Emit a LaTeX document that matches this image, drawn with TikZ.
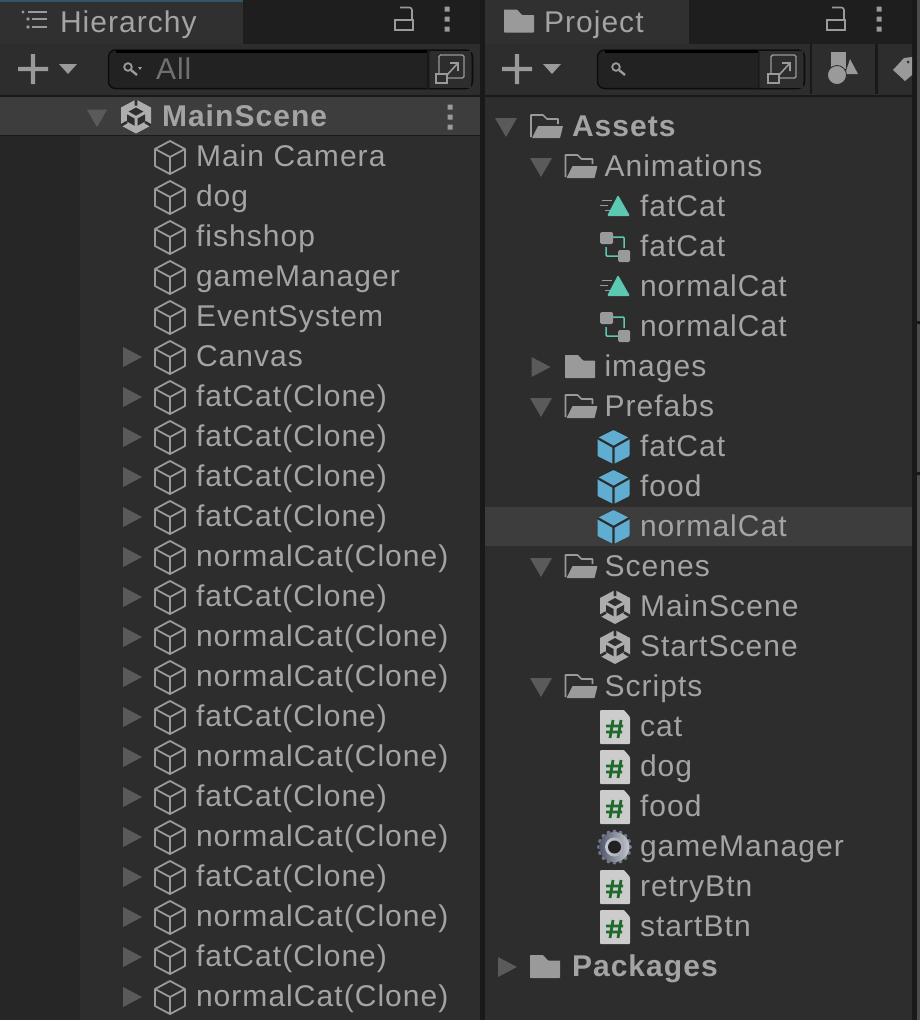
\documentclass[tikz,border=0pt]{standalone}
\usepackage{fontspec}
\setmainfont[LetterSpace=3.5]{Liberation Sans}
\usetikzlibrary{calc}
\definecolor{panel}{HTML}{2D2D2D}
\definecolor{bar}{HTML}{1E1E1E}
\definecolor{tab}{HTML}{303030}
\definecolor{strip}{HTML}{262626}
\definecolor{sel}{HTML}{3D3D3D}
\definecolor{txt}{HTML}{A4A4A4}
\definecolor{ico}{HTML}{9A9A9A}
\definecolor{tri}{HTML}{5A5A5A}
\definecolor{teal}{HTML}{5CC8B2}
\definecolor{blue}{HTML}{5FADD1}
\definecolor{page}{HTML}{CCCCCC}
\definecolor{sharp}{HTML}{1E6B2C}
\definecolor{gap}{HTML}{191919}
\definecolor{sfield}{HTML}{222222}
\definecolor{dimtxt}{HTML}{707070}
\definecolor{gearA}{HTML}{50566A}
\definecolor{gearB}{HTML}{C4C8D0}
\tikzset{
 x=1pt,y=-1pt,
 lbl/.style={anchor=base west,inner sep=0pt,outer sep=0pt,text=txt,font=\fontsize{30}{34}\selectfont},
 blbl/.style={lbl,font=\fontsize{30}{34}\selectfont\bfseries},
 tablbl/.style={lbl,font=\fontsize{30}{34}\selectfont},
 thn/.style={line width=1.8pt,draw=ico,line join=round},
 cube/.pic={\draw[thn] (0,-16)--(15,-8)--(15,9)--(0,17)--(-15,9)--(-15,-8)--cycle (-15,-8)--(0,0)--(15,-8) (0,0)--(0,17);},
 bcube/.pic={\fill[blue,rounded corners=1pt] (0,-17)--(16,-9)--(16,9)--(0,17)--(-16,9)--(-16,-9)--cycle;
   \draw[panel,line width=2.2pt] (-16,-9)--(0,0)--(16,-9) (0,0)--(0,17);},
 unity/.pic={\fill[page!85!black] (0,-17)--(15,-9)--(15,9)--(0,17)--(-15,9)--(-15,-9)--cycle;
   \fill[panel] (0,-9)--(9,-4)--(9,5)--(0,10)--(-9,5)--(-9,-4)--cycle;
   \draw[panel,line width=2.6pt] (0,-17)--(0,-11) (-15,9)--(-9,5.5) (15,9)--(9,5.5);
   \draw[page!85!black,line width=3pt] (0,1)--(0,11) (0,1)--(-9,-4) (0,1)--(9,-4);},
 ofolder/.pic={\draw[ico,line width=1.6pt,line join=round] (-16,11)--(-16,-11)--(-4,-11)--(0,-7)--(11,-7)--(11,-2);
   \fill[ico,rounded corners=.5pt] (-9,0)--(16,0)--(13,12)--(-15,12)--cycle;},
 cfolder/.pic={\fill[ico,rounded corners=.6pt] (-15,11.5)--(-15,-11.5)--(-2,-11.5)--(3,-6)--(15,-6)--(15,11.5)--cycle;},
 clip/.pic={\draw[ico,line width=1pt] (-12,-6)--(-2,-6) (-14,-1)--(-6,-1) (-9,4.7)--(-4,4.7);
   \fill[teal,rounded corners=1.3pt] (-7,10)--(4,-11)--(16,10)--cycle;},
 ctrl/.pic={\draw[teal,line width=1.5pt,rounded corners=1pt] (-1,-9)--(10,-9)--(10,2) (-8,1)--(-8,10)--(4,10);
   \fill[ico,rounded corners=1.5pt] (-14,-14) rectangle (-1,-2);
   \fill[ico,rounded corners=1.5pt] (4,4) rectangle (16,16);},
 script/.pic={\fill[page,rounded corners=1pt] (-15,-17)--(9,-17)--(15,-10)--(15,17)--(-15,17)--cycle;
   \draw[sharp,line width=2.8pt] (-2,-7)--(-5,11) (6,-7)--(3,11) (-9,-1)--(8,-1) (-9,5)--(7,5);},
 gear/.pic={\foreach \a in {0,22.5,...,359}{\fill[gearA!70!gearB] (\a:15.5) circle (2);}
   \shade[left color=gearA,right color=gearB] (0,0) circle (15);
   \shade[left color=gearB,right color=gearB!70!gearA] (0,0) circle (9.5);
   \fill[panel!75!black] (0,0) circle (6.5);},
 tridown/.pic={\fill[tri] (-11,-8)--(11,-8)--(0,11)--cycle;},
 triright/.pic={\fill[tri] (-9.5,-10)--(9.5,0)--(-9.5,10)--cycle;},
 lock/.pic={\draw[ico,line width=1.6pt] (-9,0) rectangle (9,10);
   \draw[ico,line width=1.6pt,rounded corners=2.5pt] (-4,-12.5)--(8,-12.5)--(8,0);},
 dots/.pic={\fill[ico] (-2.5,-12.5) rectangle (2.5,-7.5) (-2.5,-2.5) rectangle (2.5,2.5) (-2.5,7.5) rectangle (2.5,12.5);},
 plus/.pic={\fill[ico] (-15,-2.2) rectangle (15,2.2) (-2.2,-15) rectangle (2.2,15);\fill[ico] (26,-5)--(44,-5)--(35,5)--cycle;},
 ext/.pic={\draw[ico,line width=1.4pt,rounded corners=1.5pt] (-11,5)--(-11,-14)--(14,-14)--(14,9)--(-3,9);
   \draw[ico,line width=1.4pt] (-14,5) rectangle (-3,14);
   \draw[ico,line width=1.6pt] (-3,6)--(8,-6) (0,-6)--(8,-6)--(8,2);},
 lens/.pic={\draw[ico,line width=1.8pt] (-2,-2) circle (3.8);\draw[ico,line width=2.4pt] (1,1)--(7,6);},
 sfieldbox/.style={fill=sfield,draw=black!70!panel,rounded corners=7pt,line width=1.5pt},
}
% one tree row: name, icon pic, icon x, row centre y, text x, text
\newcommand{\rowic}[6]{% icon one pixel below the row centre
  \pic at (#3,#4+1) {#2};
  \node[lbl] (#1) at (#5,#4+10) {#6};}
\newcommand{\rowicz}[6]{% icon on the row centre
  \pic at (#3,#4) {#2};
  \node[lbl] (#1) at (#5,#4+10) {#6};}
\begin{document}
\begin{tikzpicture}
\useasboundingbox (0,0) rectangle (920,1020);
\fill[panel] (0,0) rectangle (920,1020);
% --- left panel chrome
\fill[bar] (243,0) rectangle (480,44);
\fill[tab] (0,0) rectangle (243,44);
\fill[blue!50!black] (0,0) rectangle (243,1.5);
\fill[strip] (0,136) rectangle (80,1020);
\fill[sel] (0,97) rectangle (480,135);
\fill[gap] (0,95) rectangle (480,97);
\fill[gap] (0,135) rectangle (480,136);
\fill[gap] (480,0) rectangle (485,1020);
% --- right panel chrome
\fill[bar] (689,0) rectangle (912,44);
\fill[tab] (485,0) rectangle (689,44);
\fill[gap] (485,95) rectangle (912,97);
\fill[gap] (810,44) rectangle (812,94);
\fill[gap] (875,44) rectangle (878,94);
\fill[gap] (912,0) rectangle (917,1020);
\fill[panel!85!white] (917,0) rectangle (920,1020);
\fill[gap] (917,321) rectangle (920,324) (917,472) rectangle (920,475);
\fill[sel] (485,507) rectangle (912,546);
% --- tabs
\draw[ico,line width=1.4pt] (28,12)--(47,12) (32,19)--(47,19) (32,27)--(47,27);
\fill[ico] (23,12) circle (1.6) (28,19) circle (1.8) (28,27) circle (1.8);
\node[tablbl] (hiertab) at (60,32) {Hierarchy};
\pic at (404,20) {lock};
\pic at (447,19) {dots};
\pic at (519,21) {cfolder};
\node[tablbl] (projtab) at (544,32) {Project};
\pic at (836,20) {lock};
\pic at (879,19) {dots};
% --- toolbars
\pic at (33,69) {plus};
\path[sfieldbox] (108.5,50) rectangle (472.5,88.5);
\fill[panel] (430,51) rectangle (471,87.5);
\draw[black,line width=2.4pt] (116,51.5)--(428,51.5);
\draw[gap,line width=1.5pt] (428,50)--(428,88.5);
\pic at (130,69) {lens};
\fill[ico] (138,67)--(142,67)--(140,70)--cycle;
\node[lbl,text=dimtxt] (allbox) at (156,79) {All};
\pic at (450,69) {ext};
\pic at (517,69) {plus};
\path[sfieldbox] (597.5,50) rectangle (804.5,88.5);
\fill[panel] (760,51) rectangle (803,87.5);
\draw[black,line width=2.4pt] (605,51.5)--(758,51.5);
\draw[gap,line width=1.5pt] (758.5,50)--(758.5,88.5);
\pic at (618,69) {lens};
\pic at (782,69) {ext};
\fill[ico] (831,52) rectangle (846,69);
\fill[ico] (850,59)--(858,74)--(845,74)--cycle;
\fill[ico,draw=panel,line width=.8pt] (837,75) circle (9.5);
\fill[ico] (893,70)--(904,58)--(912,57)--(912,75)--(905,81)--cycle;
\fill[panel] (908,62) circle (1.5);
% --- hierarchy
\pic at (97,117) [scale=.92] {tridown};
\pic at (136,116.5) {unity};
\node[blbl] (mainscene) at (162,126) {MainScene};
\pic at (450,117) {dots};
\rowic{h1}{cube}{170}{156}{196}{Main Camera}
\rowic{h2}{cube}{170}{196}{196}{dog}
\rowic{h3}{cube}{170}{236}{196}{fishshop}
\rowic{h4}{cube}{170}{276}{196}{gameManager}
\rowic{h5}{cube}{170}{316}{196}{EventSystem}
\foreach \y/\t [count=\i from 6] in {
 356/Canvas,396/fatCat(Clone),436/fatCat(Clone),476/fatCat(Clone),516/fatCat(Clone),
 556/normalCat(Clone),596/fatCat(Clone),636/normalCat(Clone),676/normalCat(Clone),
 716/fatCat(Clone),756/normalCat(Clone),796/fatCat(Clone),836/normalCat(Clone),
 876/fatCat(Clone),916/normalCat(Clone),956/fatCat(Clone),996/normalCat(Clone)}{
  \pic at (132.5,\y+1) {triright};
  \rowic{h\i}{cube}{170}{\y}{196}{\t}
}
% --- project
\pic at (506,126) {tridown};
\pic at (547,126) {ofolder};
\node[blbl] (assets) at (572,136) {Assets};
\pic at (541,166) {tridown};
\pic at (581.5,166) {ofolder};
\node[lbl] (anim) at (604.5,176) {Animations};
\rowicz{p1}{clip}{614}{206}{640}{fatCat}
\rowicz{p2}{ctrl}{614}{246}{640}{fatCat}
\rowicz{p3}{clip}{614}{286}{640}{normalCat}
\rowicz{p4}{ctrl}{614}{326}{640}{normalCat}
\pic at (541,367) {triright};
\pic at (580,366.5) {cfolder};
\node[lbl] (images) at (604.5,376) {images};
\pic at (541,406) {tridown};
\pic at (581.5,406) {ofolder};
\node[lbl] (prefabs) at (604.5,416) {Prefabs};
\rowic{p5}{bcube}{613.5}{446}{640}{fatCat}
\rowic{p6}{bcube}{613.5}{486}{640}{food}
\rowic{p7}{bcube}{613.5}{526}{640}{normalCat}
\pic at (541,566) {tridown};
\pic at (581.5,566) {ofolder};
\node[lbl] (scenes) at (604.5,576) {Scenes};
\rowic{p8}{unity}{615}{606}{640}{MainScene}
\rowic{p9}{unity}{615}{646}{640}{StartScene}
\pic at (541,686) {tridown};
\pic at (581.5,686) {ofolder};
\node[lbl] (scripts) at (604.5,696) {Scripts};
\rowic{p10}{script}{615}{726}{640}{cat}
\rowic{p11}{script}{615}{766}{640}{dog}
\rowic{p12}{script}{615}{806}{640}{food}
\rowic{p13}{gear}{614.5}{846}{640}{gameManager}
\rowic{p14}{script}{615}{886}{640}{retryBtn}
\rowic{p15}{script}{615}{926}{640}{startBtn}
\pic at (507.5,967) {triright};
\pic at (545,966.5) {cfolder};
\node[blbl] (packages) at (572,976) {Packages};
\end{tikzpicture}
\end{document}
